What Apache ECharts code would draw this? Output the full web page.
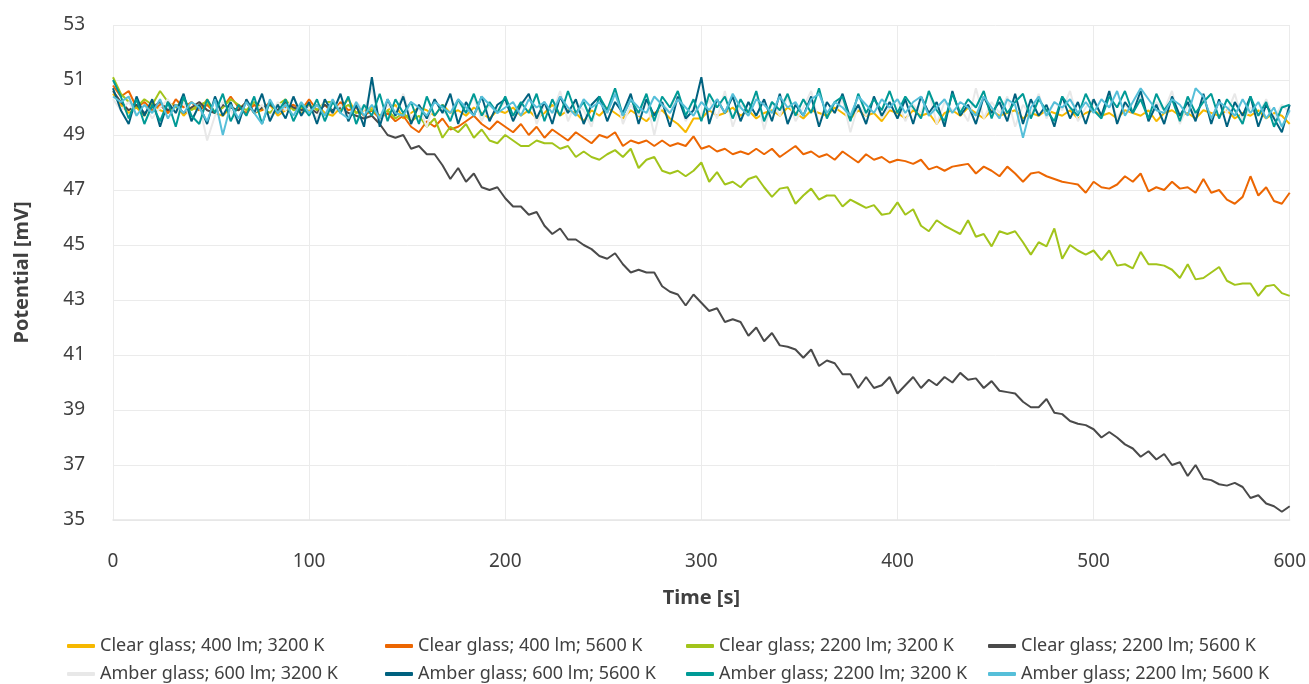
<!DOCTYPE html>
<html>
<head>
<meta charset="utf-8">
<script src="https://cdn.jsdelivr.net/npm/echarts@6/dist/echarts.min.js"></script>
<style>
html,body{margin:0;padding:0;background:#fff;}
#chart{width:1309px;height:684px;}
</style>
</head>
<body>
<div id="chart"></div>
<script>
// Sampling times [s], one reading every 4 s from 0 to 600
const timeStart = 0, timeStep = 4, timeCount = 151;
const xTicks = [0, 100, 200, 300, 400, 500, 600];
const yTicks = [35, 37, 39, 41, 43, 45, 47, 49, 51, 53];

const seriesNames = [
  'Clear glass; 400 lm; 3200 K',
  'Clear glass; 400 lm; 5600 K',
  'Clear glass; 2200 lm; 3200 K',
  'Clear glass; 2200 lm; 5600 K',
  'Amber glass; 600 lm; 3200 K',
  'Amber glass; 600 lm; 5600 K',
  'Amber glass; 2200 lm; 3200 K',
  'Amber glass; 2200 lm; 5600 K'
];

const clear400_3200 = [
 50.5,50.1,49.8,50.0,49.7,50.2,49.9,49.8,50.1,49.7,50.0,49.9,50.3,49.8,49.7,50.0,49.9,50.2,49.8,49.9,50.1,49.7,49.9,50.0,49.8,
 49.9,50.1,49.8,49.7,50.0,50.3,49.8,49.9,50.0,49.7,49.9,50.1,49.6,49.8,50.0,49.9,49.7,50.1,49.8,49.9,49.7,50.0,49.8,49.6,49.9,
 49.8,50.0,49.7,49.9,49.6,49.8,50.1,49.7,49.9,49.8,49.5,49.9,49.7,50.0,49.8,49.6,49.9,49.7,49.5,49.8,49.9,49.6,49.4,49.1,49.6,
 49.6,49.9,49.7,49.8,50.0,49.7,49.9,49.6,49.8,49.9,49.7,50.0,49.8,49.6,49.9,49.8,49.7,50.0,49.8,49.6,49.9,49.7,49.8,49.5,49.9,
 49.8,49.6,49.9,49.7,49.8,49.4,49.8,49.9,49.7,50.0,49.8,49.6,49.9,49.7,49.8,49.9,49.6,49.8,49.7,49.9,49.8,49.7,49.9,49.6,49.8,
 49.9,49.7,49.8,49.6,49.9,49.8,49.7,49.9,49.5,49.8,49.9,49.7,49.8,49.6,49.9,49.8,49.7,49.9,49.6,49.8,49.7,49.9,49.6,49.8,49.7,
 49.4
];
const clear400_5600 = [
 50.8,50.4,50.6,50.0,50.2,49.9,50.1,49.8,50.3,50.0,50.2,49.9,50.1,49.8,50.0,50.4,50.0,49.8,50.1,49.9,50.2,49.8,50.0,50.1,49.9,
 50.3,49.9,50.1,49.8,50.2,49.9,50.0,49.7,49.9,49.6,49.8,49.5,49.7,49.3,49.1,49.5,49.3,49.6,49.2,49.3,49.5,49.7,49.4,49.2,49.5,
 49.3,49.1,49.4,49.0,49.3,48.9,49.2,49.0,48.8,49.1,48.9,48.7,49.0,48.9,49.1,48.6,48.8,48.7,48.8,48.6,48.8,48.6,48.7,48.6,48.95,
 48.5,48.6,48.4,48.5,48.3,48.4,48.3,48.5,48.3,48.5,48.2,48.4,48.6,48.3,48.4,48.2,48.3,48.1,48.4,48.2,48.0,48.3,48.1,48.2,48.0,
 48.1,48.05,47.95,48.1,47.75,47.85,47.7,47.85,47.9,47.95,47.6,47.85,47.7,47.5,47.85,47.6,47.3,47.6,47.65,47.5,47.4,47.3,47.25,47.2,46.9,
 47.3,47.1,47.05,47.2,47.5,47.3,47.6,46.95,47.1,47.0,47.3,47.05,47.1,46.9,47.4,46.9,47.0,46.65,46.5,46.75,47.5,46.8,47.1,46.6,46.5,
 46.9
];
const clear2200_3200 = [
 51.1,50.5,50.2,50.0,50.3,50.1,50.6,50.2,50.0,50.3,49.9,50.1,50.2,49.8,50.0,50.3,50.1,49.9,50.2,50.0,49.8,50.1,50.3,49.9,50.0,
 50.1,49.9,50.2,50.2,49.9,50.1,49.8,50.0,49.9,49.7,49.9,49.6,49.8,49.5,49.7,49.3,49.6,48.9,49.3,49.1,49.4,48.9,49.2,48.8,48.7,
 49.0,48.8,48.6,48.6,48.8,48.7,48.7,48.5,48.6,48.2,48.4,48.2,48.1,48.3,48.45,48.2,48.5,47.8,48.1,48.2,47.7,47.6,47.7,47.5,47.7,
 48.0,47.3,47.65,47.2,47.3,47.1,47.4,47.5,47.1,46.75,47.05,47.1,46.5,46.8,47.05,46.65,46.8,46.8,46.4,46.65,46.5,46.35,46.45,46.1,46.15,
 46.55,46.1,46.3,45.7,45.5,45.9,45.7,45.55,45.4,45.9,45.3,45.4,44.95,45.5,45.4,45.5,45.1,44.65,45.1,44.95,45.6,44.5,45.0,44.8,44.65,
 44.8,44.45,44.8,44.25,44.3,44.15,44.75,44.3,44.3,44.25,44.1,43.8,44.3,43.75,43.8,44.0,44.2,43.7,43.55,43.6,43.6,43.15,43.5,43.55,43.25,
 43.15
];
const clear2200_5600 = [
 50.6,50.2,49.9,50.1,49.8,50.0,50.2,49.9,50.1,49.8,50.0,50.2,49.9,49.8,50.1,50.0,49.9,50.2,49.8,50.0,50.1,49.9,50.2,50.0,49.9,
 50.0,49.8,50.1,49.9,50.0,49.8,49.7,49.6,49.7,49.4,49.0,48.9,49.0,48.5,48.6,48.3,48.3,47.9,47.4,47.8,47.3,47.6,47.1,47.0,47.1,
 46.7,46.4,46.4,46.1,46.2,45.7,45.4,45.6,45.2,45.2,45.0,44.85,44.6,44.5,44.7,44.3,44.0,44.1,44.0,44.0,43.5,43.3,43.2,42.8,43.2,
 42.9,42.6,42.7,42.2,42.3,42.2,41.7,42.0,41.5,41.8,41.35,41.3,41.2,40.9,41.2,40.6,40.8,40.7,40.3,40.3,39.8,40.2,39.8,39.9,40.2,
 39.6,39.9,40.2,39.8,40.1,39.9,40.2,40.0,40.35,40.1,40.15,39.8,40.05,39.7,39.65,39.6,39.3,39.1,39.1,39.4,38.9,38.85,38.6,38.5,38.45,
 38.3,38.0,38.2,38.0,37.75,37.6,37.3,37.5,37.2,37.4,37.0,37.1,36.6,37.0,36.5,36.45,36.3,36.25,36.35,36.2,35.8,35.9,35.6,35.5,35.3,
 35.5
];
const amber600_3200 = [
 50.3,49.9,50.2,49.7,50.1,49.6,50.0,50.3,49.8,50.2,49.5,50.1,48.8,49.7,50.2,49.9,49.4,50.3,49.8,50.1,49.6,50.2,49.9,50.4,49.7,
 50.0,49.6,50.3,49.8,50.1,49.5,50.2,49.9,50.7,49.4,50.1,49.8,50.5,49.6,50.0,49.3,50.3,49.9,49.6,50.2,49.8,50.4,49.5,50.1,49.9,
 50.2,49.6,50.0,50.5,49.4,50.1,49.8,50.6,49.5,50.2,49.9,49.3,50.4,49.8,50.7,49.4,50.1,49.7,50.3,49.0,50.2,49.8,50.5,49.5,50.0,
 49.7,50.3,49.6,50.6,49.3,50.1,49.9,50.5,49.2,50.2,49.7,50.4,49.5,50.0,50.6,49.4,50.2,49.8,50.3,49.1,50.1,49.7,50.4,49.6,50.0,
 50.3,49.5,50.1,49.8,50.6,49.4,50.2,49.9,50.0,49.5,50.7,49.6,50.2,49.8,50.4,49.3,50.1,49.7,50.5,49.6,50.2,49.9,50.6,49.5,50.0,
 50.3,49.7,50.5,49.6,50.1,49.8,50.4,49.5,50.2,49.9,50.6,49.4,50.1,49.7,50.3,49.6,50.2,49.8,50.5,49.5,50.0,49.7,50.3,49.6,50.1,
 49.8
];
const amber600_5600 = [
 50.7,49.9,49.4,50.4,49.7,50.3,49.3,50.2,49.8,50.5,49.5,50.1,49.4,50.4,49.7,50.2,49.4,50.3,49.8,50.5,49.5,50.1,49.6,50.4,49.7,
 50.2,49.4,50.3,49.8,50.5,49.5,50.1,49.3,51.1,49.3,50.3,49.7,50.4,49.4,50.1,49.6,50.3,49.8,50.5,49.4,50.2,49.7,50.4,49.5,50.1,
 50.3,49.5,50.1,50.5,49.6,50.2,49.4,50.4,49.8,50.3,49.4,50.1,50.4,49.5,50.2,49.8,50.5,49.4,50.3,49.7,50.2,49.3,50.4,49.6,49.9,
 51.1,49.4,50.3,49.8,50.4,49.5,50.2,49.7,50.3,49.5,50.5,49.4,50.1,49.7,50.4,49.3,50.2,49.8,50.5,49.6,50.1,49.4,50.4,49.7,50.2,
 49.6,50.3,49.4,50.4,49.8,50.2,49.3,50.6,49.7,50.1,49.4,50.4,49.8,50.2,49.5,50.5,49.4,50.3,49.7,50.1,49.3,50.4,49.6,50.2,49.4,
 50.3,49.7,50.6,49.4,50.2,49.8,50.6,49.5,50.1,49.4,50.4,49.7,50.2,49.5,50.5,49.4,50.3,49.3,50.2,49.7,50.4,49.3,50.1,49.6,49.1,
 50.1
];
const amber2200_3200 = [
 51.0,50.4,49.6,50.3,49.4,50.1,49.5,50.2,49.3,50.4,49.7,49.4,50.3,49.8,50.5,49.5,50.1,49.7,50.4,49.4,50.2,49.8,50.3,49.5,50.1,
 49.7,50.3,49.5,50.2,49.8,50.4,49.4,50.1,49.7,50.5,49.5,50.3,49.8,50.2,49.4,50.4,49.7,50.1,49.5,50.3,49.8,50.5,49.7,50.2,49.8,
 50.4,49.7,50.2,49.8,50.5,49.5,50.3,49.7,50.6,49.8,50.2,49.5,50.4,49.9,50.7,49.7,50.3,49.8,50.5,49.5,50.4,50.0,50.6,49.7,50.3,
 49.5,50.5,50.0,50.4,49.6,50.3,49.8,50.6,49.5,50.2,49.9,50.5,49.7,50.3,49.8,50.7,49.6,50.2,50.4,49.5,50.5,49.8,50.3,49.9,50.6,
 49.8,50.4,50.0,49.6,50.6,49.9,49.5,50.5,49.8,50.3,50.0,50.6,49.6,50.4,49.8,50.2,50.5,49.6,50.3,49.9,49.5,50.4,50.0,49.7,50.5,
 49.9,49.6,50.4,50.0,50.6,49.8,50.3,49.6,50.5,49.9,50.3,49.5,50.4,49.8,50.2,50.5,49.6,50.3,49.9,49.4,50.4,49.7,50.2,49.3,50.0,
 50.1
];
const amber2200_5600 = [
 50.4,50.2,50.4,49.7,50.1,49.8,50.3,49.6,50.1,49.8,50.2,50.0,49.5,50.3,49.0,50.1,49.6,50.2,49.8,49.4,50.3,49.8,50.1,49.7,50.2,
 49.8,50.1,49.7,50.3,49.8,49.6,50.2,49.7,50.1,49.6,50.3,49.8,49.7,50.2,50.0,49.7,50.2,50.0,49.8,50.3,50.0,49.7,50.4,50.1,49.8,
 50.0,50.2,49.7,50.3,50.0,50.2,49.8,50.4,50.0,49.7,50.3,50.0,50.2,49.8,50.5,49.7,50.3,50.0,49.8,50.4,50.1,49.8,50.3,50.0,49.7,
 50.2,49.9,50.3,49.8,50.5,50.0,49.7,50.3,50.1,49.8,50.4,50.0,50.2,49.7,50.3,50.5,49.8,50.2,50.0,49.7,50.4,50.1,49.8,50.3,50.0,
 50.3,49.8,50.2,50.4,49.7,50.0,50.3,49.8,50.2,50.0,49.7,50.4,50.0,49.6,50.3,50.1,48.9,50.0,50.4,49.7,50.2,50.0,50.3,49.8,50.2,
 49.8,50.3,50.0,50.6,49.7,50.2,50.7,50.3,49.9,49.8,50.3,50.1,49.7,50.7,50.4,49.6,50.2,50.0,49.7,50.3,49.8,50.2,49.6,50.0,49.3,
 49.9
];

const seriesValues = [clear400_3200, clear400_5600, clear2200_3200, clear2200_5600,
                      amber600_3200, amber600_5600, amber2200_3200, amber2200_5600];
const colors = ['#F6B800', '#EC6602', '#A2C41B', '#4A4A4A', '#E8E8E8', '#00617F', '#009A96', '#56BFD9'];

const times = [];
for (let i = 0; i < timeCount; i++) times.push(timeStart + i * timeStep);

const series = seriesNames.map((name, k) => ({
  name: name,
  type: 'line',
  showSymbol: false,
  symbol: 'none',
  data: seriesValues[k].map((v, i) => [times[i], v]),
  lineStyle: { width: 2, color: colors[k] },
  itemStyle: { color: colors[k] },
  emphasis: { disabled: true },
  z: 2
}));

const legendCols = [67, 385, 686, 988];
const legendRows = [637, 665];
const legends = seriesNames.map((name, k) => ({
  data: [name],
  left: legendCols[k % 4],
  top: legendRows[Math.floor(k / 4)],
  padding: 0,
  icon: 'roundRect',
  itemWidth: 28,
  itemHeight: 4,
  itemGap: 0,
  selectedMode: false,
  textStyle: { fontFamily: 'Noto Sans', fontSize: 18, color: '#404040' }
}));

const chart = echarts.init(document.getElementById('chart'), null, { renderer: 'canvas' });
chart.setOption({
  animation: false,
  color: colors,
  backgroundColor: '#ffffff',
  grid: { left: 113, right: 19, top: 25, bottom: 164 },
  legend: legends,
  xAxis: {
    type: 'value',
    min: xTicks[0], max: xTicks[xTicks.length - 1], interval: 100,
    name: 'Time [s]',
    nameLocation: 'middle',
    nameGap: 68,
    nameTextStyle: { fontFamily: 'Noto Sans', fontSize: 20, fontWeight: 'bold', color: '#404040' },
    axisLine: { show: true, lineStyle: { color: '#E6E6E6', width: 1.5 } },
    axisTick: { show: false },
    axisLabel: { fontFamily: 'Noto Sans', fontSize: 19, color: '#404040', margin: 32 },
    splitLine: { show: true, lineStyle: { color: '#EBEBEB', width: 1 } }
  },
  yAxis: {
    type: 'value',
    min: yTicks[0], max: yTicks[yTicks.length - 1], interval: 2,
    name: 'Potential [mV]',
    nameLocation: 'middle',
    nameRotate: 90,
    nameGap: 81,
    nameTextStyle: { fontFamily: 'Noto Sans', fontSize: 20, fontWeight: 'bold', color: '#404040' },
    axisLine: { show: false },
    axisTick: { show: false },
    axisLabel: { fontFamily: 'Noto Sans', fontSize: 19, color: '#404040', margin: 28 },
    splitLine: { show: true, lineStyle: { color: '#EBEBEB', width: 1 } }
  },
  series: series
});
</script>
</body>
</html>
